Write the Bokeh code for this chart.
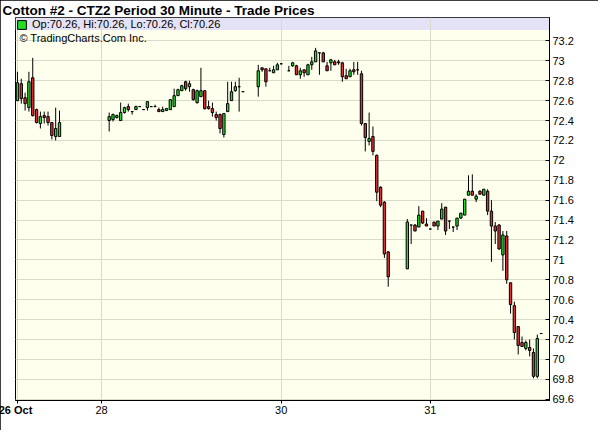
import numpy as np
from bokeh.plotting import figure
from bokeh.models import (ColumnDataSource, FixedTicker, NumeralTickFormatter, Label,
                          BoxAnnotation, Legend, LegendItem, Range1d)
from bokeh.core.properties import value
from bokeh.embed import file_html
from bokeh.resources import INLINE

# ---------------- data ----------------
TITLE = "Cotton #2 - CTZ2 Period 30 Minute - Trade Prices"
COPYRIGHT = "\u00a9 TradingCharts.Com Inc."

# bar slot (30-minute periods; gaps = no trading)
slot = (list(range(0, 12)) + list(range(24, 60)) + list(range(63, 70)) +
        list(range(71, 98)) + list(range(102, 138)))

open_ = [72.60, 72.77, 72.63, 72.53, 72.83, 72.51, 72.37, 72.45, 72.44, 72.38, 72.24, 72.24,
         72.40, 72.41, 72.43, 72.40, 72.48, 72.54, 72.49, 72.51, 72.54, 72.51, 72.53, 72.54,
         72.54, 72.51, 72.49, 72.50, 72.51, 72.54, 72.65, 72.70, 72.79, 72.74, 72.71, 72.58,
         72.64, 72.70, 72.54, 72.52, 72.46, 72.46, 72.26, 72.49, 72.60, 72.70, 72.74, 72.69,
         72.74, 72.93, 72.92, 72.90, 72.88, 72.91, 72.97,
         72.90, 72.95, 72.95, 72.86, 72.91, 72.86, 72.96, 72.99, 73.08, 73.08, 72.95, 72.98,
         72.99, 72.99, 72.98, 72.85, 72.84, 72.91, 72.91, 72.87, 72.37, 72.19, 72.24, 72.05,
         71.73, 71.58, 71.08,
         70.91, 71.35, 71.35, 71.33, 71.49, 71.36, 71.31, 71.38, 71.34, 71.41, 71.53, 71.39,
         71.33, 71.34, 71.42, 71.45, 71.65, 71.69, 71.61, 71.69, 71.65, 71.69, 71.49, 71.34,
         71.35, 71.05, 71.24, 70.77, 70.54, 70.33, 70.17, 70.11, 70.12, 70.07, 69.83, 70.26]
high = [72.89, 72.82, 72.68, 72.89, 73.03, 72.52, 72.49, 72.49, 72.49, 72.38, 72.53, 72.50,
        72.48, 72.47, 72.46, 72.58, 72.54, 72.57, 72.49, 72.55, 72.54, 72.51, 72.59, 72.54,
        72.56, 72.53, 72.54, 72.52, 72.61, 72.72, 72.72, 72.76, 72.80, 72.80, 72.72, 72.71,
        72.93, 72.70, 72.60, 72.58, 72.49, 72.47, 72.47, 72.79, 72.79, 72.79, 72.83, 72.69,
        72.96, 72.93, 72.92, 72.93, 72.95, 72.98, 72.97,
        72.95, 72.99, 72.96, 72.93, 72.91, 72.97, 73.04, 73.13, 73.08, 73.09, 72.99, 73.02,
        73.01, 73.01, 72.99, 72.92, 72.92, 72.99, 72.99, 72.90, 72.37, 72.48, 72.34, 72.06,
        71.74, 71.59, 71.09,
        71.41, 71.35, 71.36, 71.54, 71.49, 71.42, 71.31, 71.38, 71.39, 71.57, 71.53, 71.39,
        71.33, 71.42, 71.47, 71.61, 71.85, 71.86, 71.66, 71.70, 71.71, 71.71, 71.60, 71.38,
        71.36, 71.29, 71.29, 70.77, 70.58, 70.33, 70.23, 70.19, 70.20, 70.11, 70.25, 70.26]
low = [72.60, 72.57, 72.50, 72.49, 72.44, 72.37, 72.32, 72.37, 72.35, 72.21, 72.20, 72.24,
       72.29, 72.39, 72.42, 72.40, 72.47, 72.49, 72.46, 72.51, 72.54, 72.51, 72.50, 72.54,
       72.54, 72.49, 72.49, 72.50, 72.51, 72.54, 72.65, 72.70, 72.70, 72.69, 72.60, 72.57,
       72.64, 72.51, 72.51, 72.44, 72.40, 72.27, 72.23, 72.49, 72.60, 72.69, 72.49, 72.69,
       72.64, 72.89, 72.74, 72.90, 72.88, 72.91, 72.97,
       72.90, 72.94, 72.86, 72.82, 72.84, 72.86, 72.91, 72.99, 72.86, 72.99, 72.90, 72.90,
       72.96, 72.96, 72.79, 72.82, 72.84, 72.86, 72.86, 72.35, 72.09, 72.15, 72.05, 71.59,
       71.53, 71.02, 70.73,
       70.91, 71.16, 71.29, 71.33, 71.36, 71.34, 71.31, 71.34, 71.30, 71.41, 71.25, 71.31,
       71.28, 71.30, 71.41, 71.45, 71.65, 71.65, 71.58, 71.66, 71.65, 71.45, 70.98, 71.16,
       71.10, 70.89, 70.76, 70.46, 70.20, 70.05, 70.13, 70.09, 70.03, 69.81, 69.81, 70.26]
close = [72.78, 72.62, 72.57, 72.79, 72.45, 72.38, 72.44, 72.43, 72.38, 72.25, 72.32, 72.38,
         72.44, 72.46, 72.45, 72.48, 72.53, 72.51, 72.49, 72.54, 72.54, 72.51, 72.59, 72.54,
         72.54, 72.49, 72.51, 72.52, 72.61, 72.65, 72.71, 72.75, 72.72, 72.77, 72.61, 72.70,
         72.70, 72.52, 72.52, 72.48, 72.43, 72.32, 72.47, 72.57, 72.69, 72.74, 72.74, 72.69,
         72.90, 72.91, 72.79, 72.90, 72.91, 72.96, 72.97,
         72.90, 72.98, 72.86, 72.90, 72.88, 72.96, 72.99, 73.10, 73.08, 72.99, 72.90, 73.01,
         72.96, 72.98, 72.84, 72.82, 72.90, 72.89, 72.91, 72.37, 72.23, 72.22, 72.09, 71.68,
         71.55, 71.06, 70.83,
         71.38, 71.35, 71.29, 71.45, 71.37, 71.34, 71.31, 71.34, 71.39, 71.51, 71.29, 71.39,
         71.33, 71.42, 71.47, 71.61, 71.69, 71.65, 71.64, 71.66, 71.71, 71.49, 71.34, 71.29,
         71.11, 71.25, 70.80, 70.55, 70.27, 70.14, 70.13, 70.17, 70.09, 69.83, 70.21, 70.26]

day_ticks = [0, 22, 69, 108]
day_labels = ["26 Oct", "28", "30", "31"]
price_ticks = [69.6, 69.8, 70.0, 70.2, 70.4, 70.6, 70.8, 71.0, 71.2, 71.4, 71.6, 71.8,
               72.0, 72.2, 72.4, 72.6, 72.8, 73.0, 73.2]

# ---------------- styling ----------------
GREEN = "#22DD22"
RED = "#E03030"
FRAME_BG = "#FFFFEE"
GRID = "#D9D9CC"
BAND = "#E3E3F5"
FONT = "Liberation Sans"

PX_PER_UNIT = 99.8           # vertical pixels per price unit
X0, X1 = -0.51, 139.19
Y0, Y1 = 69.587, 73.4355

o = np.array(open_); c = np.array(close)
top = np.maximum(o, c); bot = np.minimum(o, c)
up = c > o

all_src = ColumnDataSource(dict(x=slot, h=high, l=low))
up_src = ColumnDataSource(dict(x=[s for s, u in zip(slot, up) if u],
                               top=top[up], bottom=bot[up]))
dn_src = ColumnDataSource(dict(x=[s for s, u in zip(slot, up) if not u],
                               top=top[~up], bottom=bot[~up]))

p = figure(width=598, height=430, output_backend="svg", toolbar_location=None,
           x_range=Range1d(X0, X1), y_range=Range1d(Y0, Y1),
           y_axis_location="right", x_axis_location="below",
           min_border_left=15, min_border_right=49, min_border_top=16, min_border_bottom=30,
           background_fill_color=FRAME_BG, border_fill_color="white",
           outline_line_color="black", outline_line_width=1)
p.styles = {"outline": "1px solid black", "outline-offset": "-1px"}

p.title.text = TITLE
p.title.text_font = FONT
p.title.text_font_size = "13.5px"
p.title.text_font_style = "bold"
p.title.text_color = "black"
p.title.align = "left"
p.title.offset = -13
p.title.standoff = 0

# band at top of frame
band = BoxAnnotation(bottom=Y1 - 12.5 / PX_PER_UNIT, fill_color=BAND, fill_alpha=1.0,
                     line_alpha=0, level="image")
p.add_layout(band)

p.segment(x0="x", y0="h", x1="x", y1="l", source=all_src, line_color="black", line_width=1)
up_r = p.vbar(x="x", width=0.62, top="top", bottom="bottom", source=up_src,
              fill_color=GREEN, line_color="black", line_width=1)
p.vbar(x="x", width=0.62, top="top", bottom="bottom", source=dn_src,
       fill_color=RED, line_color="black", line_width=1)

# axes
xa = p.xaxis[0]
xa.ticker = FixedTicker(ticks=day_ticks)
xa.major_label_overrides = {t: ("" if i == 0 else lab) for i, (t, lab) in enumerate(zip(day_ticks, day_labels))}
xa.major_tick_out = 3
xa.major_tick_in = 0
xa.minor_tick_line_color = None
xa.axis_line_color = "black"
xa.major_label_standoff = 2
xa.major_label_text_font = FONT
xa.major_label_text_font_size = "11px"
xa.major_label_text_color = "black"
# first date label in bold, drawn as the axis label at the left end
xa.axis_label = day_labels[0]
xa.axis_label_align = "start"
xa.axis_label_text_align = "center"
xa.axis_label_standoff = -13
xa.axis_label_text_font = FONT
xa.axis_label_text_font_size = "11px"
xa.axis_label_text_font_style = "bold"
xa.axis_label_text_color = "black"

ya = p.yaxis[0]
ya.ticker = FixedTicker(ticks=price_ticks)
ya.formatter = NumeralTickFormatter(format="0.[0]")
ya.major_tick_in = 4
ya.major_tick_out = 0
ya.minor_tick_line_color = None
ya.axis_line_color = "black"
ya.major_label_standoff = 3
ya.major_label_text_font = FONT
ya.major_label_text_font_size = "11px"
ya.major_label_text_color = "black"

p.xgrid.ticker = FixedTicker(ticks=day_ticks)
p.ygrid.ticker = FixedTicker(ticks=price_ticks)
p.xgrid.grid_line_color = GRID
p.ygrid.grid_line_color = GRID
p.xgrid.grid_line_width = 1
p.ygrid.grid_line_width = 1

# legend inside the band
legend_text = "Op:%.2f, Hi:%.2f, Lo:%.2f, Cl:%.2f" % (open_[-1], high[-1], low[-1], close[-1])
legend = Legend(items=[LegendItem(label=value(legend_text), renderers=[up_r])],
                location="top_left", margin=0, padding=1, spacing=0,
                glyph_width=11, glyph_height=11, label_height=11, label_width=10,
                label_standoff=5, label_text_font=FONT, label_text_font_size="11px",
                label_text_color="black",
                border_line_alpha=0, background_fill_alpha=0)
p.add_layout(legend)

# copyright note under the band
p.add_layout(Label(x=0.51, y=Y1 - 12.5 / PX_PER_UNIT, y_offset=-2, text=COPYRIGHT, text_font=FONT,
                   text_font_size="11px", text_baseline="top", text_align="left",
                   text_color="black"))

open("out.html", "w").write(file_html(p, INLINE))
